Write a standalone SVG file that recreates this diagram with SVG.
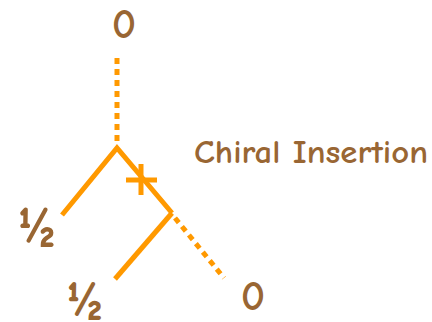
<svg xmlns="http://www.w3.org/2000/svg" width="432" height="322" viewBox="0 0 432 322">
<style>
.t{font-family:"Comic Neue","Noto Sans","DejaVu Sans",sans-serif;fill:#996633;font-weight:bold}
.s{stroke:#FF9900;stroke-width:5;fill:none}
.d{stroke:#FF9900;stroke-width:5;fill:none;stroke-dasharray:6 5}
</style>
<rect width="432" height="322" fill="#fff"/>
<g id="connectors">
<line class="d" x1="117" y1="58" x2="117" y2="146"/>
<polyline class="s" points="62,215 117,148 172,213"/>
<line class="s" x1="172" y1="213" x2="115" y2="279"/>
<line class="d" x1="175" y1="218" x2="224" y2="278"/>
<line class="s" x1="126" y1="180" x2="157" y2="180"/>
<line class="s" x1="141" y1="164" x2="141" y2="195"/>
</g>
<g id="root"><text class="t" x="124" y="38" font-size="42" text-anchor="middle">0</text></g>
<g id="leaf1"><text class="t" x="37" y="242" font-size="50" text-anchor="middle">½</text></g>
<g id="leaf2"><text class="t" x="85" y="315" font-size="48" text-anchor="middle">½</text></g>
<g id="leaf3"><text class="t" x="253" y="310" font-size="42" text-anchor="middle">0</text></g>
<g id="label"><text class="t" x="194" y="163" font-size="32" textLength="234" lengthAdjust="spacingAndGlyphs">Chiral Insertion</text></g>
</svg>
